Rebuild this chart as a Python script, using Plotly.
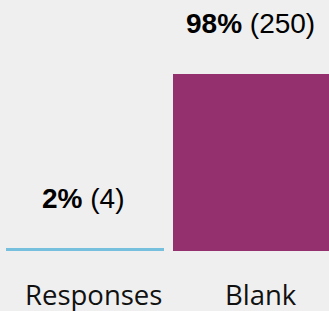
import plotly.graph_objects as go

categories = ["Responses", "Blank"]
counts = [4, 250]
percents = [2, 98]
colors = ["#76c0dd", "#94306e"]

fig = go.Figure()
fig.add_trace(go.Bar(
    x=list(range(len(categories))), y=counts,
    marker=dict(color=colors, line=dict(width=0)),
    width=0.946, hoverinfo="skip", showlegend=False,
))

annotations = []
for i, (c, v, p) in enumerate(zip(categories, counts, percents)):
    annotations.append(dict(
        x=i, y=v, xref="x", yref="y", text=f"<b>{p}%</b> ({v})",
        showarrow=False, yanchor="middle", yshift=50, xshift=-2,
        font=dict(family="Liberation Sans, Arial", size=28, color="#000000"),
    ))
    annotations.append(dict(
        x=i, y=0, xref="x", yref="y", text=c,
        showarrow=False, yanchor="top", yshift=-23, xshift=8.5,
        font=dict(family="Open Sans", size=27.5, color="#111111"),
    ))

fig.update_layout(
    width=329, height=311,
    margin=dict(l=0, r=0, t=0, b=60, pad=0),
    paper_bgcolor="#efefef", plot_bgcolor="#efefef",
    xaxis=dict(range=[-0.509, 1.461], visible=False, fixedrange=True),
    yaxis=dict(range=[0, 354.5], visible=False, fixedrange=True),
    annotations=annotations,
    bargap=0,
)
fig.write_html(
    "out.html",
    config={"displayModeBar": False},
    post_script="document.body.style.margin='0';document.body.style.background='#efefef';",
)
